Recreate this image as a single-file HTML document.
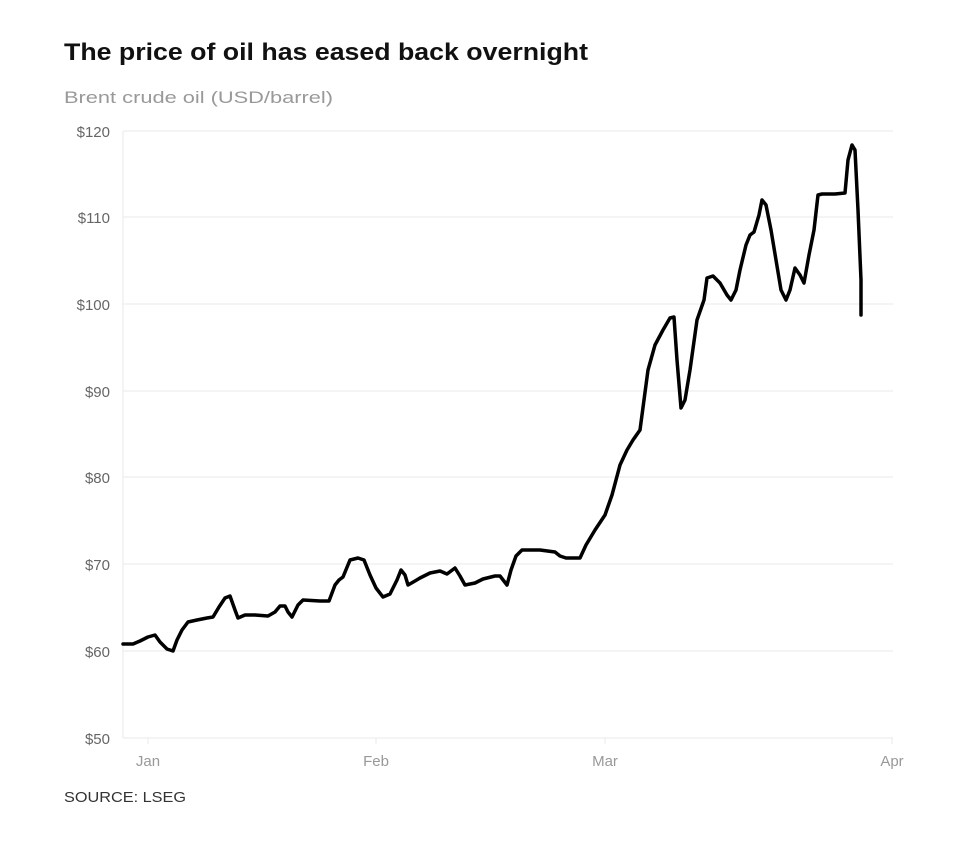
<!DOCTYPE html>
<html><head><style>
body{margin:0;background:#fff;width:980px;height:838px;overflow:hidden;font-family:"Liberation Sans",sans-serif}
</style></head><body>
<svg width="980" height="838" xmlns="http://www.w3.org/2000/svg" font-family="Liberation Sans, sans-serif">
<text x="64" y="60" font-size="24" font-weight="bold" fill="#111" textLength="524" lengthAdjust="spacingAndGlyphs">The price of oil has eased back overnight</text>
<text x="64" y="103" font-size="17" fill="#999" textLength="269" lengthAdjust="spacingAndGlyphs">Brent crude oil (USD/barrel)</text>
<g stroke="#e8e8e8" stroke-width="1">
<line x1="123" y1="131" x2="893" y2="131"/><line x1="123" y1="217" x2="893" y2="217"/>
<line x1="123" y1="304" x2="893" y2="304"/><line x1="123" y1="391" x2="893" y2="391"/>
<line x1="123" y1="477" x2="893" y2="477"/><line x1="123" y1="564" x2="893" y2="564"/>
<line x1="123" y1="651" x2="893" y2="651"/><line x1="123" y1="738" x2="893" y2="738"/>
<line x1="123" y1="131" x2="123" y2="738"/>
<line x1="148" y1="738" x2="148" y2="744"/><line x1="376" y1="738" x2="376" y2="744"/>
<line x1="605" y1="738" x2="605" y2="744"/><line x1="892" y1="738" x2="892" y2="744"/>
</g>
<g font-size="15" fill="#666" text-anchor="end">
<text x="110" y="137">$120</text><text x="110" y="223">$110</text><text x="110" y="310">$100</text>
<text x="110" y="397">$90</text><text x="110" y="483">$80</text><text x="110" y="570">$70</text>
<text x="110" y="657">$60</text><text x="110" y="744">$50</text>
</g>
<g font-size="15" fill="#999" text-anchor="middle">
<text x="148" y="766">Jan</text><text x="376" y="766">Feb</text><text x="605" y="766">Mar</text><text x="892" y="766">Apr</text>
</g>
<text x="64" y="802" font-size="15" fill="#333" textLength="122" lengthAdjust="spacingAndGlyphs">SOURCE: LSEG</text>
<polyline fill="none" stroke="#000" stroke-width="3.5" stroke-linejoin="round" stroke-linecap="round" points="123,644 133,644 140,641 148,637 155,635 160,642 167,649 173,651 177,640 182,630 188,622 197,620 207,618 213,617 219,607 225,598 230,596 235,610 238,618 245,615 255,615 268,616 275,612 280,606 285,606 288,612 292,617 298,605 303,600 320,601 329,601 335,585 339,580 343,577 350,560 358,558 364,560 370,575 376,588 383,597 390,594 397,580 401,570 405,575 408,585 415,581 420,578 430,573 440,571 447,574 455,568 460,576 465,585 475,583 483,579 495,576 500,576 507,585 511,570 516,556 522,550 540,550 555,552 560,556 566,558 575,558 580,558 586,545 595,530 605,515 612,495 620,465 627,450 633,440 640,430 644,400 648,370 655,345 663,330 670,318 674,317 677,360 681,408 685,400 690,370 697,320 704,300 707,278 713,276 720,283 727,295 731,300 736,290 740,270 746,245 750,235 754,232 759,215 762,200 766,205 771,230 776,260 781,290 786,300 790,290 795,268 800,275 804,283 809,255 814,230 818,195 822,194 835,194 845,193 848,160 852,145 855,150 858,210 861,280 861,315"/>
</svg>
</body></html>
